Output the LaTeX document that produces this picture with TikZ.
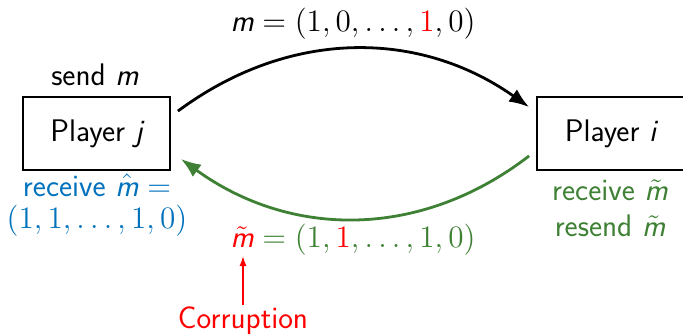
\RequirePackage{fix-cm}
\documentclass[tikz,border=0pt]{standalone}
\usetikzlibrary{arrows.meta}
\definecolor{mblue}{RGB}{0,114,189}
\definecolor{mgreen}{RGB}{62,128,52}
\definecolor{mred}{RGB}{255,0,0}
\newcommand\smm{\mbox{\sffamily\itshape m}}
\newcommand\sjj{\mbox{\sffamily\itshape j}}
\newcommand\sii{\mbox{\sffamily\itshape i}}
\begin{document}
\begin{tikzpicture}[x=0.5pt,y=-0.5pt,
  font=\fontsize{15.6}{18}\selectfont\sffamily,
  player/.style={draw, line width=0.9pt, minimum width=73.5pt, minimum height=36.5pt, inner sep=0pt},
  lbl/.style={inner sep=1pt, align=center},
  bigarrow/.style={line width=1.4pt, -{Latex[length=10pt,width=7.5pt]}},
  smallarrow/.style={line width=0.7pt, mred, -{Latex[length=5pt,width=3.5pt]}}]
\useasboundingbox (0,0) rectangle (683,336);
\node[player] (j) at (96.5,133.5) {Player $\sjj$};
\node[player] (i) at (610.5,133.5) {Player $\sii$};
\node[lbl] (send) at (95,75) {send $\smm$};
\node[lbl, mblue] (recv) at (97,205) {receive $\hat{\smm}=$\\[-2pt]$(1,1,\ldots,1,0)$};
\node[lbl, mgreen] (recvi) at (610,208) {receive $\tilde{\smm}$\\[0pt]resend $\tilde{\smm}$};
\node[lbl] (top) at (353,24) {$\smm=(1,0,\ldots,{\color{mred}1},0)$};
\node[lbl, mgreen] (bot) at (353,240) {${\color{mred}\tilde{\smm}}=(1,{\color{mred}1},\ldots,1,0)$};
\node[lbl, mred] (corr) at (243,321) {Corruption};
\coordinate (ctip) at (243,256);
\draw[bigarrow] ([shift={(7,15)}]j.north east) .. controls (290,28) and (420,30) .. ([shift={(-7,11)}]i.north west);
\draw[bigarrow, mgreen] ([shift={(-7,-15)}]i.south west) .. controls (420,240) and (290,238) .. ([shift={(10,-12)}]j.south east);
\draw[smallarrow] (corr.north) -- (ctip);
\end{tikzpicture}
\end{document}
